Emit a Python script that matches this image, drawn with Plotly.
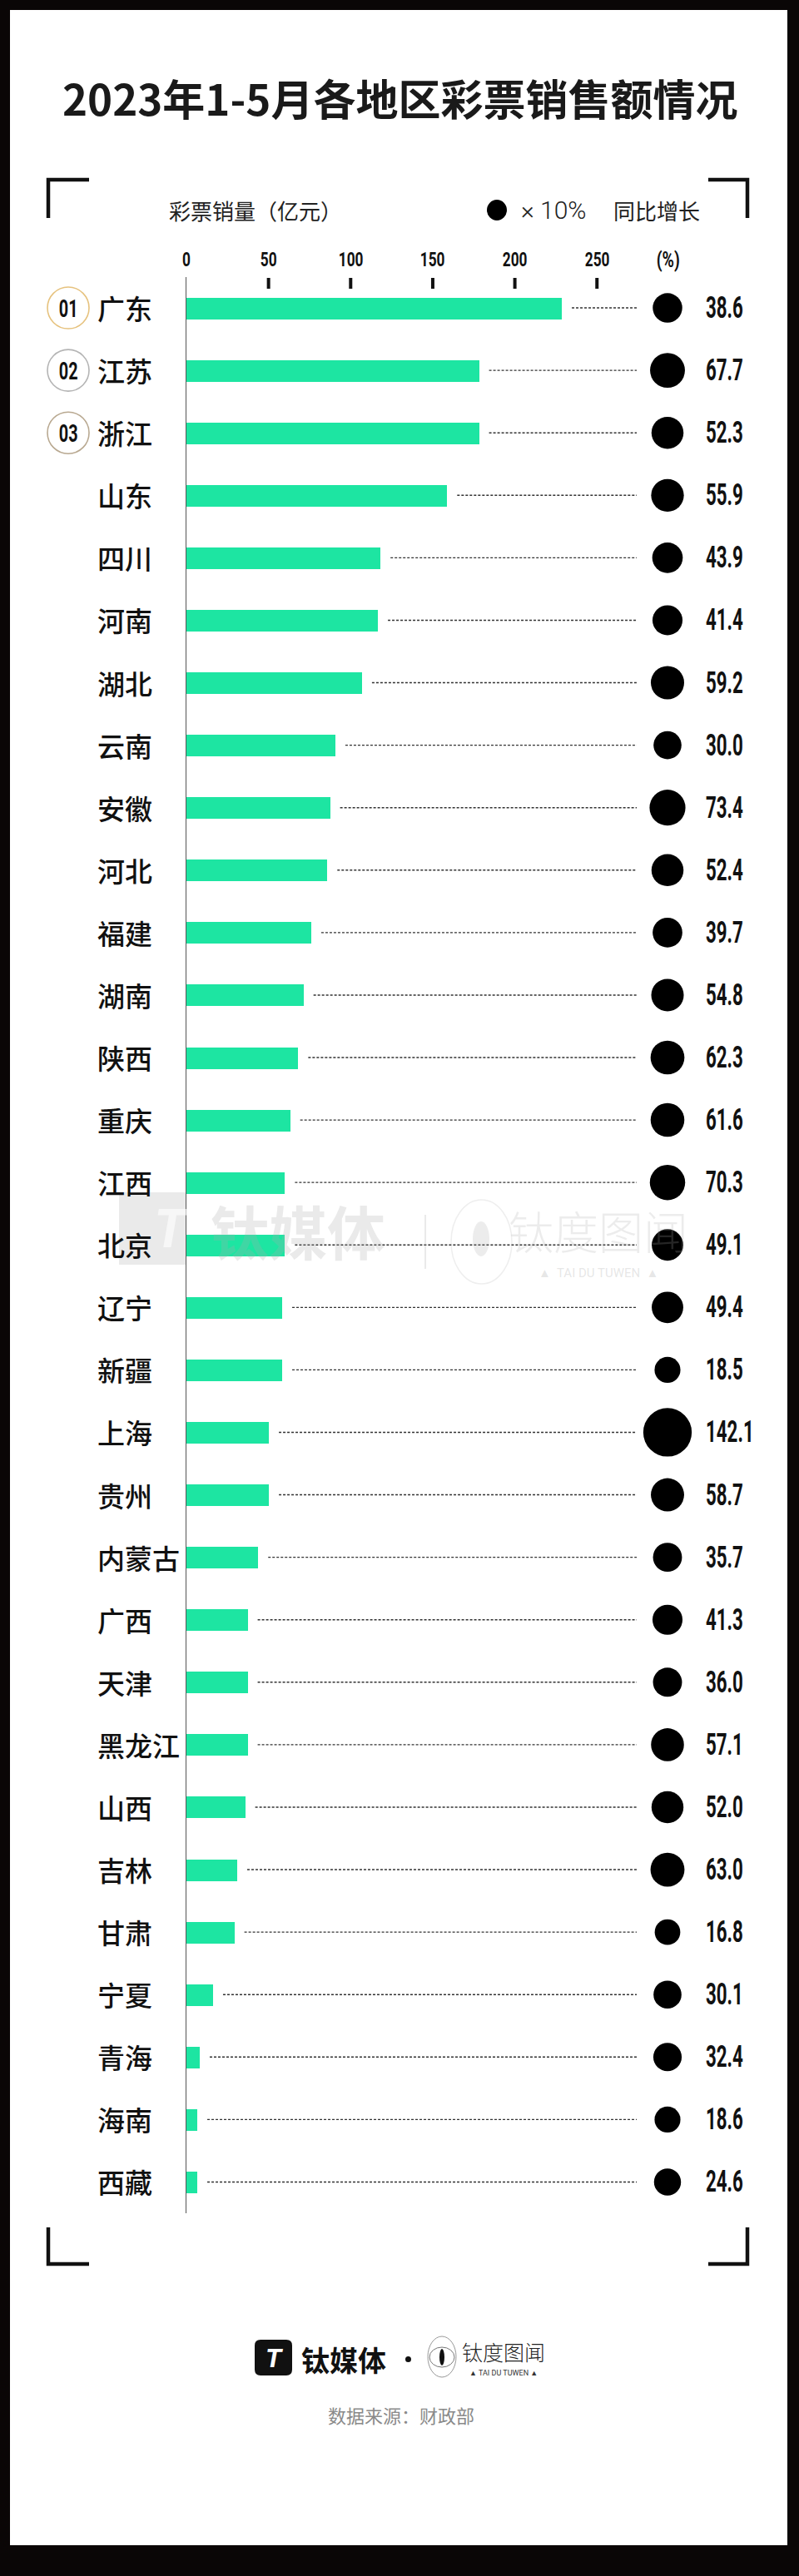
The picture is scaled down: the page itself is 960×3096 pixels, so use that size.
import plotly.graph_objects as go

# ---------------- data ----------------
provinces = ['广东', '江苏', '浙江', '山东', '四川', '河南', '湖北', '云南', '安徽', '河北',
             '福建', '湖南', '陕西', '重庆', '江西', '北京', '辽宁', '新疆', '上海', '贵州',
             '内蒙古', '广西', '天津', '黑龙江', '山西', '吉林', '甘肃', '宁夏', '青海', '海南', '西藏']
sales = [228.6, 178.2, 178.2, 158.8, 118.2, 116.6, 106.9, 90.7, 87.5, 85.8,
         76.0, 71.3, 68.1, 63.2, 60.0, 60.0, 58.3, 58.3, 50.2, 50.2,
         43.7, 37.3, 37.3, 37.3, 35.8, 30.9, 29.2, 16.2, 8.1, 6.6, 6.6]
growth = [38.6, 67.7, 52.3, 55.9, 43.9, 41.4, 59.2, 30.0, 73.4, 52.4,
          39.7, 54.8, 62.3, 61.6, 70.3, 49.1, 49.4, 18.5, 142.1, 58.7,
          35.7, 41.3, 36.0, 57.1, 52.0, 63.0, 16.8, 30.1, 32.4, 18.6, 24.6]
tick_vals = [0, 50, 100, 150, 200, 250]
rank_labels = ['01', '02', '03']
rank_colors = ['#e6c27e', '#b4b4b4', '#b8a890']

title = '2023年1-5月各地区彩票销售额情况'
sales_title = '彩票销量（亿元）'
growth_title = '同比增长'
source_text = '数据来源：财政部'

# ---------------- layout helpers ----------------
W, H = 960, 3096
def px(x):
    return x / W
def py(y):
    return 1 - y / H

CJK = 'Noto Sans CJK SC'
def cond(scale, anchor):
    # marker font name (not installed) read by the post script to narrow digits
    return f'cnd{int(scale * 100)}{anchor}, Roboto, Liberation Sans, sans-serif'
BAR_COLOR = '#1de5a2'

X0_PX, X_END_PX = 224, 765
PX_PER_UNIT = 1.973
x_max = (X_END_PX - X0_PX) / PX_PER_UNIT
n = len(provinces)
Y_TOP, Y_BOT = 332.5, 2660
row_h = (Y_BOT - Y_TOP) / n

fig = go.Figure()

fig.add_trace(go.Bar(
    x=sales, y=provinces, orientation='h',
    marker=dict(color=BAR_COLOR, line=dict(width=0)),
    width=26 / row_h, hoverinfo='skip', xaxis='x', yaxis='y'))

fig.add_trace(go.Scatter(
    x=[0.5] * n, y=provinces, mode='markers',
    marker=dict(color='#000', opacity=1, size=[27 + 0.22 * g for g in growth], line=dict(width=0)),
    hoverinfo='skip', xaxis='x2', yaxis='y', cliponaxis=False))

shapes = []
annotations = []

# leader lines
gap_units = 12 / PX_PER_UNIT
for p, s in zip(provinces, sales):
    shapes.append(dict(type='line', xref='x', yref='y', x0=s + gap_units, x1=x_max,
                       y0=p, y1=p, line=dict(color='#333', width=1.4, dash='3px,2px'), layer='below'))

# top tick marks (not at 0) and tick labels
for t in tick_vals[1:]:
    shapes.append(dict(type='line', xref='x', yref='paper', x0=t, x1=t,
                       y0=py(334), y1=py(347), line=dict(color='#111', width=4)))
for t in tick_vals:
    annotations.append(dict(x=t, y=py(312), xref='x', yref='paper', text=str(t), showarrow=False,
                            xanchor='center', yanchor='middle',
                            font=dict(family=cond(0.72, 'm'), size=24, color='#111', weight='bold')))

# province labels
for p in provinces:
    annotations.append(dict(x=px(115), y=p, xref='paper', yref='y', text=p, showarrow=False,
                            xanchor='left', yanchor='middle',
                            font=dict(family=CJK, size=33, color='#111', weight=500)))

# growth labels
for p, g in zip(provinces, growth):
    annotations.append(dict(x=px(846), y=p, xref='paper', yref='y', text=f'{g:.1f}', showarrow=False,
                            xanchor='left', yanchor='middle',
                            font=dict(family=cond(0.62, 'l'), size=36, color='#111', weight='bold')))

# rank badges
for i, (lab, col) in enumerate(zip(rank_labels, rank_colors)):
    r = 25 / row_h
    shapes.append(dict(type='circle', xref='paper', yref='y', x0=px(57), x1=px(107),
                       y0=i - r, y1=i + r, line=dict(color=col, width=1.6), fillcolor='rgba(0,0,0,0)'))
    annotations.append(dict(x=px(82), y=provinces[i], xref='paper', yref='y', text=lab, showarrow=False,
                            xanchor='center', yanchor='middle',
                            font=dict(family=cond(0.66, 'm'), size=30, color='#111', weight='bold')))

# title
annotations.append(dict(x=0.5, y=py(117), xref='paper', yref='paper', text=title, showarrow=False,
                        xanchor='center', yanchor='middle',
                        font=dict(family=CJK, size=51, color='#1a1a1a', weight='bold')))

# header
annotations.append(dict(x=px(201), y=py(252), xref='paper', yref='paper', text=sales_title, showarrow=False,
                        xanchor='left', yanchor='middle', font=dict(family=CJK, size=26, color='#222')))
shapes.append(dict(type='circle', xref='paper', yref='paper', x0=px(585), x1=px(609),
                   y0=py(265), y1=py(240), fillcolor='#000', line=dict(width=0)))
annotations.append(dict(x=px(624), y=py(252), xref='paper', yref='paper', text='× 10%', showarrow=False,
                        xanchor='left', yanchor='middle',
                        font=dict(family='Roboto, sans-serif', size=30, color='#222', weight=300)))
annotations.append(dict(x=px(735), y=py(252), xref='paper', yref='paper', text=growth_title, showarrow=False,
                        xanchor='left', yanchor='middle', font=dict(family=CJK, size=26, color='#222')))
annotations.append(dict(x=px(802), y=py(312), xref='paper', yref='paper', text='(%)', showarrow=False,
                        xanchor='center', yanchor='middle',
                        font=dict(family=cond(0.75, 'm'), size=26, color='#111', weight='bold')))

# corner brackets
BR = dict(color='#111', width=4.5)
shapes += [
    dict(type='path', xref='paper', yref='paper',
         path=f'M {px(58)} {py(262)} L {px(58)} {py(216)} L {px(107)} {py(216)}', line=BR),
    dict(type='path', xref='paper', yref='paper',
         path=f'M {px(851)} {py(216)} L {px(898)} {py(216)} L {px(898)} {py(262)}', line=BR),
    dict(type='path', xref='paper', yref='paper',
         path=f'M {px(58)} {py(2677)} L {px(58)} {py(2721)} L {px(107)} {py(2721)}', line=BR),
    dict(type='path', xref='paper', yref='paper',
         path=f'M {px(851)} {py(2721)} L {px(898)} {py(2721)} L {px(898)} {py(2677)}', line=BR),
]

# watermark (light)
WM = 'rgba(170,170,170,0.25)'
shapes.append(dict(type='rect', xref='paper', yref='paper', x0=px(143), x1=px(223), y0=py(1520), y1=py(1433),
                   fillcolor=WM, line=dict(width=0), layer='above'))
annotations.append(dict(x=px(183), y=py(1477), xref='paper', yref='paper', text='<b><i>T</i></b>', showarrow=False,
                        font=dict(family='Roboto, sans-serif', size=64, color='rgba(255,255,255,0.6)')))
annotations.append(dict(x=px(358), y=py(1478), xref='paper', yref='paper', text='钛媒体', showarrow=False,
                        xanchor='center', yanchor='middle',
                        font=dict(family=CJK, size=70, color=WM, weight='bold')))
shapes.append(dict(type='line', xref='paper', yref='paper', x0=px(511), x1=px(511), y0=py(1460), y1=py(1525),
                   line=dict(color=WM, width=2)))
shapes.append(dict(type='circle', xref='paper', yref='paper', x0=px(542), x1=px(615), y0=py(1543), y1=py(1442),
                   line=dict(color='rgba(170,170,170,0.2)', width=1.5)))
shapes.append(dict(type='circle', xref='paper', yref='paper', x0=px(568), x1=px(588), y0=py(1510), y1=py(1468),
                   fillcolor='rgba(170,170,170,0.22)', line=dict(width=0)))
annotations.append(dict(x=px(719), y=py(1479), xref='paper', yref='paper', text='钛度图闻', showarrow=False,
                        xanchor='center', yanchor='middle',
                        font=dict(family=CJK, size=54, color='rgba(170,170,170,0.22)', weight=300)))
annotations.append(dict(x=px(719), y=py(1530), xref='paper', yref='paper', text='▲  TAI DU TUWEN  ▲', showarrow=False,
                        xanchor='center', yanchor='middle',
                        font=dict(family='Roboto, sans-serif', size=15, color='rgba(170,170,170,0.3)')))

# footer logos
shapes.append(dict(type='path', xref='paper', yref='paper', fillcolor='#111', line=dict(width=0),
                   path=(f'M {px(313)} {py(2812)} L {px(344)} {py(2812)} Q {px(351)} {py(2812)} {px(351)} {py(2819)} '
                         f'L {px(351)} {py(2848)} Q {px(351)} {py(2855)} {px(344)} {py(2855)} '
                         f'L {px(313)} {py(2855)} Q {px(306)} {py(2855)} {px(306)} {py(2848)} '
                         f'L {px(306)} {py(2819)} Q {px(306)} {py(2812)} {px(313)} {py(2812)} Z')))
annotations.append(dict(x=px(329), y=py(2834), xref='paper', yref='paper', text='<b><i>T</i></b>', showarrow=False,
                        xanchor='center', yanchor='middle', font=dict(family='Roboto, sans-serif', size=32, color='#fff')))
annotations.append(dict(x=px(413), y=py(2835), xref='paper', yref='paper', text='钛媒体', showarrow=False,
                        xanchor='center', yanchor='middle', font=dict(family=CJK, size=34, color='#111', weight='bold')))
shapes.append(dict(type='circle', xref='paper', yref='paper', x0=px(487), x1=px(494), y0=py(2839), y1=py(2832),
                   fillcolor='#111', line=dict(width=0)))
shapes.append(dict(type='circle', xref='paper', yref='paper', x0=px(514), x1=px(548), y0=py(2857), y1=py(2808),
                   line=dict(color='#999', width=1)))
shapes.append(dict(type='circle', xref='paper', yref='paper', x0=px(516), x1=px(546), y0=py(2845), y1=py(2821),
                   line=dict(color='#777', width=1)))
shapes.append(dict(type='circle', xref='paper', yref='paper', x0=px(528), x1=px(534), y0=py(2843), y1=py(2823),
                   fillcolor='#111', line=dict(width=0)))
annotations.append(dict(x=px(605), y=py(2826), xref='paper', yref='paper', text='钛度图闻', showarrow=False,
                        xanchor='center', yanchor='middle', font=dict(family=CJK, size=25, color='#222', weight=300)))
annotations.append(dict(x=px(605), y=py(2852), xref='paper', yref='paper', text='▲ TAI DU TUWEN ▲', showarrow=False,
                        xanchor='center', yanchor='middle', font=dict(family='Roboto, sans-serif', size=9, color='#333')))
annotations.append(dict(x=px(482), y=py(2902), xref='paper', yref='paper', text=source_text, showarrow=False,
                        xanchor='center', yanchor='middle', font=dict(family=CJK, size=22, color='#8a8a8a')))

# black frame
FR = dict(fillcolor='#0a0606', line=dict(width=0), layer='above', xref='paper', yref='paper', type='rect')
shapes += [
    dict(**FR, x0=0, x1=1, y0=py(12), y1=1),
    dict(**FR, x0=0, x1=px(12), y0=0, y1=1),
    dict(**FR, x0=px(946), x1=1, y0=0, y1=1),
    dict(**FR, x0=0, x1=1, y0=0, y1=py(3059)),
]

fig.update_layout(
    width=W, height=H,
    margin=dict(l=0, r=0, t=0, b=0),
    paper_bgcolor='#ffffff', plot_bgcolor='rgba(0,0,0,0)',
    showlegend=False, bargap=0,
    shapes=shapes, annotations=annotations,
    xaxis=dict(domain=[px(X0_PX), px(X_END_PX)], range=[0, x_max], side='top',
               showticklabels=False, ticks='',
               showgrid=False, zeroline=False, showline=False, fixedrange=True),
    xaxis2=dict(domain=[px(782), px(822)], range=[0, 1], anchor='y', visible=False, fixedrange=True),
    yaxis=dict(domain=[py(Y_BOT), py(Y_TOP)], categoryorder='array', categoryarray=provinces,
               range=[n - 0.5, -0.5], showticklabels=False, ticks='',
               showgrid=False, zeroline=False, showline=True, linecolor='#555', linewidth=1,
               fixedrange=True),
)

post_js = r"""
document.body.style.margin = '0';
document.body.style.overflow = 'hidden';
var gd = document.getElementById('{plot_id}');
function condense() {
  gd.querySelectorAll('text').forEach(function (t) {
    if (t.getAttribute('data-cnd')) return;
    var ff = t.style.fontFamily || t.getAttribute('font-family') || '';
    var m = ff.match(/cnd(\d+)([lmr])/);
    if (!m) return;
    var s = parseInt(m[1], 10) / 100;
    var bb = t.getBBox();
    var ox = m[2] === 'l' ? bb.x : (m[2] === 'r' ? bb.x + bb.width : bb.x + bb.width / 2);
    var prev = t.getAttribute('transform') || '';
    t.setAttribute('transform', prev + ' translate(' + ox + ',0) scale(' + s + ',1) translate(' + (-ox) + ',0)');
    t.setAttribute('data-cnd', '1');
  });
}
condense();
gd.on('plotly_afterplot', condense);
"""

fig.write_html('out.html', post_script=post_js, config={'displayModeBar': False})
